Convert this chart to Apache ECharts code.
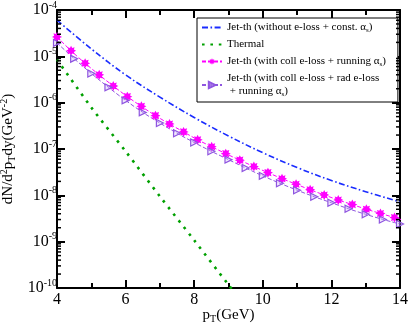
<!DOCTYPE html>
<html>
<head>
<meta charset="utf-8">
<script src="https://cdn.jsdelivr.net/npm/echarts@6/dist/echarts.min.js"></script>
<style>
  html, body { margin: 0; padding: 0; background: #fff; }
  #chart { width: 409px; height: 327px; }
</style>
</head>
<body>
<div id="chart"></div>
<script>
// values (pT in GeV, dN/d2pT dy in GeV^-2)
var jetConstX = [4, 5, 6, 7, 8, 9, 10, 11, 12, 13, 14];
var jetConstY = [6.03e-5, 1.45e-5, 3.98e-6, 1.32e-6, 4.79e-7, 1.91e-7, 8.32e-8, 3.98e-8, 2.09e-8, 1.20e-8, 7.24e-9];

var thermalX = [4, 5, 6, 7, 8, 9, 9.2];
var thermalY = [8.5e-6, 7.9e-7, 8.9e-8, 9.5e-9, 1.07e-9, 1.17e-10, 7.6e-11];

var jetCollX = [4.00, 4.41, 4.82, 5.23, 5.64, 6.05, 6.46, 6.87, 7.28, 7.69, 8.10, 8.51, 8.92,
                9.33, 9.74, 10.15, 10.56, 10.97, 11.38, 11.79, 12.20, 12.61, 13.02, 13.43, 13.84, 14.25];
var jetCollY = [2.63e-5, 1.32e-5, 7.08e-6, 3.98e-6, 2.29e-6, 1.35e-6, 8.32e-7, 5.25e-7, 3.47e-7,
                2.34e-7, 1.58e-7, 1.12e-7, 7.94e-8, 5.75e-8, 4.17e-8, 3.09e-8, 2.29e-8, 1.74e-8,
                1.32e-8, 1.02e-8, 7.94e-9, 6.31e-9, 5.01e-9, 4.07e-9, 3.31e-9, 2.69e-9];

var jetRadX = [4, 4.5, 5, 5.5, 6, 6.5, 7, 7.5, 8, 8.5, 9, 9.5, 10, 10.5, 11, 11.5, 12, 12.5, 13, 13.5, 14];
var jetRadY = [1.95e-5, 8.91e-6, 4.27e-6, 2.14e-6, 1.12e-6, 6.17e-7, 3.63e-7, 2.19e-7, 1.38e-7,
               8.91e-8, 5.89e-8, 3.89e-8, 2.63e-8, 1.82e-8, 1.29e-8, 9.33e-9, 6.92e-9, 5.13e-9,
               3.89e-9, 3.02e-9, 2.40e-9];

var seriesNames = ['jetConst', 'thermal', 'jetColl', 'jetRad'];
var legendLabels = {
  jetConst: 'Jet-th (without e-loss + const. \u03b1{s|s})',
  thermal: 'Thermal',
  jetColl: 'Jet-th (with coll e-loss + running \u03b1{s|s})',
  jetRad: 'Jet-th (with coll e-loss + rad e-loss\n + running \u03b1{s|s})'
};
var yExponents = [-10, -9, -8, -7, -6, -5, -4];

var FONT = 'Liberation Serif';

function zip(xs, ys) {
  return xs.map(function (x, i) { return [x, ys[i]]; });
}

// asterisk-like star for the coll e-loss curve
var starPts = [];
for (var i = 0; i < 16; i++) {
  var a = i * Math.PI / 8 - Math.PI / 2;
  var r = i % 2 ? 6 : 10;
  starPts.push((10 + r * Math.cos(a)).toFixed(2) + ' ' + (10 + r * Math.sin(a)).toFixed(2));
}
var starPath = 'path://M' + starPts.join(' L') + ' Z';

// log minor tick positions (2..9 x 10^n)
var minorVals = [];
for (var e = -10; e < -4; e++) {
  for (var m = 2; m < 10; m++) minorVals.push([4, m * Math.pow(10, e)]);
}

var axisLine = { show: true, lineStyle: { color: '#000', width: 2 } };
var axisTick = { show: true, inside: true, length: 8, lineStyle: { color: '#000', width: 2 } };

var chart = echarts.init(document.getElementById('chart'), null, { renderer: 'canvas' });

var option = {
  animation: false,
  backgroundColor: '#fff',
  textStyle: { fontFamily: FONT },
  grid: { left: 57, right: 9, top: 10, bottom: 39, containLabel: false, outerBoundsMode: 'none' },
  legend: {
    data: seriesNames,
    orient: 'vertical',
    left: 197,
    top: 18,
    padding: [3, 12, 4, 4],
    itemGap: 4,
    itemWidth: 20,
    itemHeight: 8,
    selectedMode: false,
    backgroundColor: '#fff',
    borderColor: '#000',
    borderWidth: 1,
    borderRadius: 0,
    formatter: function (name) { return legendLabels[name]; },
    textStyle: {
      fontFamily: FONT, fontSize: 11, color: '#000', lineHeight: 13,
      rich: { s: { fontFamily: FONT, fontSize: 7, padding: [5, 0, 0, 0], color: '#000' } }
    }
  },
  xAxis: [{
    type: 'value', min: 4, max: 14, interval: 2, position: 'bottom',
    axisLine: axisLine, axisTick: axisTick,
    minorTick: { show: true, splitNumber: 2, length: 5, lineStyle: { color: '#000', width: 2 } },
    splitLine: { show: false },
    axisLabel: { color: '#000', fontFamily: FONT, fontSize: 16, margin: 4 },
    name: 'p{sub|T}(GeV)', nameLocation: 'middle', nameGap: 18, nameMoveOverlap: false,
    nameTextStyle: {
      color: '#000', fontFamily: FONT, fontSize: 15,
      rich: { sub: { fontFamily: FONT, fontSize: 10, padding: [8, 0, 0, 0], color: '#000' } }
    }
  }, {
    type: 'value', min: 4, max: 14, interval: 2, position: 'top',
    axisLine: axisLine, axisTick: axisTick,
    minorTick: { show: true, splitNumber: 2, length: 5, lineStyle: { color: '#000', width: 2 } },
    splitLine: { show: false }, axisLabel: { show: false }
  }],
  yAxis: [{
    type: 'log', logBase: 10, min: 1e-10, max: 1e-4, splitNumber: 6, position: 'left',
    axisLine: axisLine, axisTick: axisTick, splitLine: { show: false },
    axisLabel: {
      margin: 0, align: 'right', fontFamily: FONT, fontSize: 16, color: '#000',
      formatter: function (v) {
        var ex = Math.round(Math.log10(v));
        if (yExponents.indexOf(ex) < 0) return '';
        return '{b|10}{p|' + ex + '}';
      },
      rich: {
        b: { fontFamily: FONT, fontSize: 16, color: '#000' },
        p: { fontFamily: FONT, fontSize: 10, color: '#000', padding: [0, 0, 10, 0] }
      }
    },
    name: 'dN/d{p|2}p{sub|T}dy(GeV{p|-2})', nameLocation: 'middle', nameRotate: 90,
    nameGap: 39, nameMoveOverlap: false,
    nameTextStyle: {
      color: '#000', fontFamily: FONT, fontSize: 15,
      rich: {
        p: { fontFamily: FONT, fontSize: 10, padding: [0, 0, 9, 0], color: '#000' },
        sub: { fontFamily: FONT, fontSize: 10, padding: [8, 0, 0, 0], color: '#000' }
      }
    }
  }, {
    type: 'log', logBase: 10, min: 1e-10, max: 1e-4, splitNumber: 6, position: 'right',
    axisLine: axisLine, axisTick: axisTick, splitLine: { show: false },
    axisLabel: { show: false }
  }],
  series: [{
    name: 'jetConst', type: 'line', data: zip(jetConstX, jetConstY), smooth: 0.4,
    showSymbol: false, symbol: 'none', color: '#1a2cff',
    itemStyle: { opacity: 0 },
    lineStyle: { color: '#1a2cff', width: 1.6, type: [6, 2.5, 1.6, 2.5] }
  }, {
    name: 'thermal', type: 'line', data: zip(thermalX, thermalY), smooth: 0.3,
    symbol: 'none', color: '#00a000',
    itemStyle: { opacity: 0 },
    lineStyle: { color: '#00a000', width: 2.6, type: [2.6, 5.8] }
  }, {
    name: 'jetColl', type: 'line', data: zip(jetCollX, jetCollY), smooth: 0.3,
    symbol: starPath, symbolSize: 10, color: '#ff00ff',
    itemStyle: { color: '#ff00ff' },
    lineStyle: { color: '#ff00ff', width: 1, type: [4, 2] }
  }, {
    name: 'jetRad', type: 'line', data: zip(jetRadX, jetRadY), smooth: 0.3,
    symbol: 'triangle', symbolRotate: -90, symbolSize: 7, color: '#8f55e0',
    itemStyle: { color: 'rgba(210,185,245,0.35)', borderColor: '#8f55e0', borderWidth: 1.2 },
    lineStyle: { color: '#8f55e0', width: 1, type: [4, 2] }
  }, {
    name: 'minor', type: 'custom', silent: true, clip: false, z: 5,
    data: minorVals,
    renderItem: function (params, api) {
      var l = api.coord([4, api.value(1)]);
      var r = api.coord([14, api.value(1)]);
      var st = { stroke: '#000', lineWidth: 1.5 };
      return {
        type: 'group',
        children: [
          { type: 'line', shape: { x1: l[0], y1: l[1], x2: l[0] + 4, y2: l[1] }, style: st },
          { type: 'line', shape: { x1: r[0] - 4, y1: r[1], x2: r[0], y2: r[1] }, style: st }
        ]
      };
    }
  }]
};

chart.setOption(option);
</script>
</body>
</html>
